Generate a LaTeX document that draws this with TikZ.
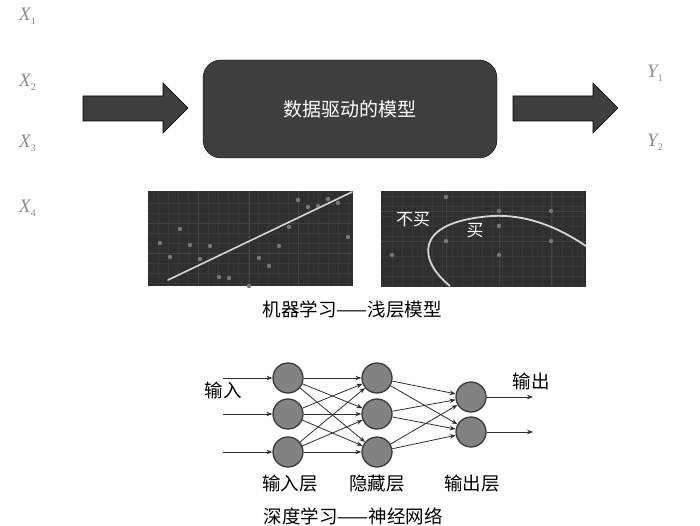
\documentclass[tikz,border=0pt]{standalone}
\usepackage{fontspec}
\setmainfont{Liberation Serif}
\newfontfamily\cjk{Noto Sans CJK SC}
\usetikzlibrary{arrows.meta,positioning}

\definecolor{darkbox}{HTML}{3E3E3E}
\definecolor{panelbg}{HTML}{2F2F2F}
\definecolor{gridc}{HTML}{434343}
\definecolor{dotc}{HTML}{777777}
\definecolor{curvec}{HTML}{D6D6D6}
\definecolor{nodefill}{HTML}{828282}
\definecolor{nodeedge}{HTML}{3A3A3A}
\definecolor{linkc}{HTML}{2E2E2E}

\begin{document}
\begin{tikzpicture}[x=1pt, y=-1pt,
    var/.style={font=\fontsize{19}{19}\selectfont\itshape, text=gray!90, inner sep=0pt, anchor=base west},
    model/.style={draw=black, fill=darkbox, rounded corners=18pt, minimum width=294pt,
                  minimum height=98pt, text=white, font=\cjk\fontsize{19}{19}\selectfont},
    bigarr/.style={draw=black, fill=darkbox, line width=0.6pt},
    neuron/.style={circle, draw=nodeedge, fill=nodefill, line width=1.3pt,
                   minimum size=30pt, inner sep=0pt},
    link/.style={-{Stealth[length=6pt, width=4.5pt]}, line width=0.8pt, draw=linkc},
    lbl/.style={font=\cjk\fontsize{18.5}{18.5}\selectfont, inner sep=0pt},
    dot/.style={fill=dotc},
]
\useasboundingbox (0,0) rectangle (700,526);

% Inputs and outputs
\node[var] (x1) at (19,21) {X\raisebox{-4pt}{\upshape\fontsize{10}{10}\selectfont 1}};
\node[var] (x2) at (19,87) {X\raisebox{-4pt}{\upshape\fontsize{10}{10}\selectfont 2}};
\node[var] (x3) at (19,148) {X\raisebox{-4pt}{\upshape\fontsize{10}{10}\selectfont 3}};
\node[var] (x4) at (19,213) {X\raisebox{-4pt}{\upshape\fontsize{10}{10}\selectfont 4}};
\node[var] (y1) at (647,78) {Y\raisebox{-4pt}{\upshape\fontsize{10}{10}\selectfont 1}};
\node[var] (y2) at (647,147) {Y\raisebox{-4pt}{\upshape\fontsize{10}{10}\selectfont 2}};

% Block arrows
\foreach \x in {83,513} {
    \draw[bigarr] (\x,96) -- ++(80,0) -- ++(0,-13) -- ++(25,25) -- ++(-25,25)
        -- ++(0,-12) -- ++(-80,0) -- cycle;
}

% Model box
\node[model] (model) at (350,109) {数据驱动的模型};

% --- Left panel: regression ---
\fill[panelbg] (148,191) rectangle (353,286);
\foreach \x in {158,168,...,348} \draw[gridc!45!panelbg, line width=0.3pt] (\x,191) -- (\x,286);
\foreach \y in {203,213,...,283} \draw[gridc!45!panelbg, line width=0.3pt] (148,\y) -- (353,\y);
\foreach \x in {198,249,298} \draw[gridc, line width=0.5pt] (\x,191) -- (\x,286);
\foreach \y in {223,253} \draw[gridc, line width=0.5pt] (148,\y) -- (353,\y);
\foreach \x/\y in {160/243,170/257,180/229,190/245,200/259,210/246,219/277,229/278,
                   249/286,259/258,269/266,279/246,289/227,298/200,308/207,318/206,
                   328/199,338/203,348/237}
    \fill[dot] (\x,\y) circle (2.2);
\draw[curvec, line width=1.6pt, line cap=round] (168,280) -- (352,192);

% --- Right panel: classification ---
\fill[panelbg] (381,191) rectangle (586,286);
\foreach \x in {392,402,...,582} \draw[gridc!45!panelbg, line width=0.3pt] (\x,191) -- (\x,286);
\foreach \y in {196,206,...,286} \draw[gridc!45!panelbg, line width=0.3pt] (381,\y) -- (586,\y);
\foreach \x in {446,499,551} \draw[gridc, line width=0.5pt] (\x,191) -- (\x,286);
\foreach \y in {211,241} \draw[gridc, line width=0.5pt] (381,\y) -- (586,\y);
\foreach \x/\y in {446/197,499/211,551/211,499/226,446/241,551/241,392/255,499/255}
    \fill[dot] (\x,\y) circle (2.2);
\draw[curvec, line width=1.8pt] (450,286) .. controls (420,262) and (410,222) .. (492,216)
    .. controls (530,214) and (562,230) .. (586,246);
\node[text=white, font=\cjk\fontsize{17}{17}\selectfont, inner sep=0pt] (nobuy) at (413,220) {不买};
\node[text=white, font=\cjk\fontsize{17}{17}\selectfont, inner sep=0pt] (buy) at (475,231) {买};

\node[lbl] (cap1) at (352,309) {机器学习——浅层模型};

% --- Neural network ---
\foreach \i/\y in {1/378,2/414,3/452} {
    \node[neuron] (in\i) at (288,\y) {};
    \node[neuron] (hid\i) at (377,\y) {};
    \coordinate (src\i) at (223,\y);
}
\foreach \i/\y in {1/397,2/432} {
    \node[neuron] (out\i) at (471,\y) {};
    \coordinate (dst\i) at (533,\y);
}
\foreach \i in {1,2,3} {
    \draw[link] (src\i) -- (in\i);
    \foreach \j in {1,2,3} \draw[link] (in\i) -- (hid\j);
    \foreach \j in {1,2} \draw[link] (hid\i) -- (out\j);
}
\foreach \i in {1,2} \draw[link] (out\i) -- (dst\i);

\node[lbl] (inlbl) at (223,390) {输入};
\node[lbl] (outlbl) at (531,381) {输出};
\node[lbl] (layin) at (290,484) {输入层};
\node[lbl] (layhid) at (377,484) {隐藏层};
\node[lbl] (layout) at (472,484) {输出层};
\node[lbl] (cap2) at (353,516) {深度学习——神经网络};
\end{tikzpicture}
\end{document}
